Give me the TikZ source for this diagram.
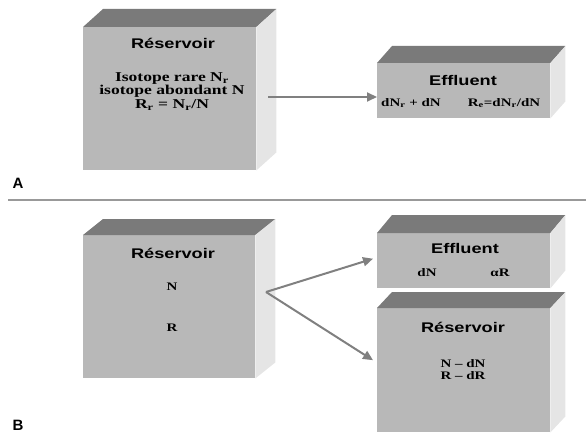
\documentclass[tikz,border=0pt]{standalone}
\usepackage{fontspec}
\usepackage{graphicx}
\setmainfont{Liberation Serif}
\newfontfamily\titlefont{Liberation Sans}
\newfontfamily\bodyfont{Liberation Serif}
\newcommand{\wide}[1]{\scalebox{1.3}[1]{#1}}
\newcommand{\stack}[1]{\wide{\begin{tabular}{@{}c@{}}#1\end{tabular}}}
\usetikzlibrary{arrows.meta}
\tikzset{
  front/.style={fill=black!28, inner sep=0pt, anchor=north west},
  topface/.style={fill=black!52},
  sideface/.style={fill=black!10},
  flow/.style={draw=black!50, line width=2pt, -{Triangle[length=10pt,width=9pt]}},
  title/.style={font=\titlefont\bfseries\fontsize{14}{14}\selectfont},
  quantity/.style={font=\bodyfont\bfseries\fontsize{13.5}{13.6}\selectfont},
  smallqty/.style={font=\bodyfont\bfseries\fontsize{11.5}{12}\selectfont},
  panel/.style={font=\titlefont\bfseries\fontsize{15}{15}\selectfont},
}
\begin{document}
\begin{tikzpicture}[x=1pt,y=-1pt]
\useasboundingbox (0,0) rectangle (586,441);
% panel A
\node[front, minimum width=173pt, minimum height=143pt] (resA) at (83,27) {};
\node[front, minimum width=173pt, minimum height=55pt] (effA) at (377,63) {};
% panel B
\node[front, minimum width=172pt, minimum height=143pt] (resB) at (83,235) {};
\node[front, minimum width=173pt, minimum height=55pt] (effB) at (377,233) {};
\node[front, minimum width=173pt, minimum height=124pt] (resBB) at (377,308) {};
% top and side faces
\foreach \b/\dx/\dy in {resA/20/-18, effA/15/-17, resB/20/-16, effB/15/-18, resBB/15/-16}{
  \fill[topface] (\b.north west) -- ++(\dx,\dy) -- ([shift={(\dx,\dy)}]\b.north east) -- (\b.north east) -- cycle;
  \fill[sideface] (\b.north east) -- ++(\dx,\dy) -- ([shift={(\dx,\dy)}]\b.south east) -- (\b.south east) -- cycle;
}
% texts A
\node[title] (tResA) at (173,43) {\wide{Réservoir}};
\node[quantity] (qResA) at (172,92) {\stack{Isotope rare N\textsubscript{r}\\isotope abondant N\\R\textsubscript{r} = N\textsubscript{r}/N}};
\node[title] (tEffA) at (463,80) {\wide{Effluent}};
\node[smallqty] (qEffA1) at (411,103) {\wide{dN\textsubscript{r} + dN}};
\node[smallqty] (qEffA2) at (504,103) {\wide{R\textsubscript{e}=dN\textsubscript{r}/dN}};
% texts B
\node[title] (tResB) at (173,253) {\wide{Réservoir}};
\node[smallqty] (qResB1) at (172,287) {\wide{N}};
\node[smallqty] (qResB2) at (172,328) {\wide{R}};
\node[title] (tEffB) at (465,248) {\wide{Effluent}};
\node[smallqty] (qEffB1) at (427,273) {\wide{dN}};
\node[smallqty] (qEffB2) at (500,273) {\wide{αR}};
\node[title] (tResBB) at (463,327) {\wide{Réservoir}};
\node[smallqty] (qResBB) at (463,371) {\stack{N – dN\\R – dR}};
% connectors
\coordinate (outA) at (268,97);
\coordinate (fork) at (266,292);
\draw[flow] (outA) -- (373,97 -| effA.west);
\draw[flow] (fork) -- ([xshift=-4pt,yshift=2pt]effB.west);
\draw[flow] (fork) -- ([xshift=-4pt,yshift=10pt]resBB.west);
% separator and panel labels
\draw[black!40, line width=2pt] (8,200) -- (586,200);
\node[panel] (labA) at (18,183) {A};
\node[panel] (labB) at (18,425) {B};
\end{tikzpicture}
\end{document}
